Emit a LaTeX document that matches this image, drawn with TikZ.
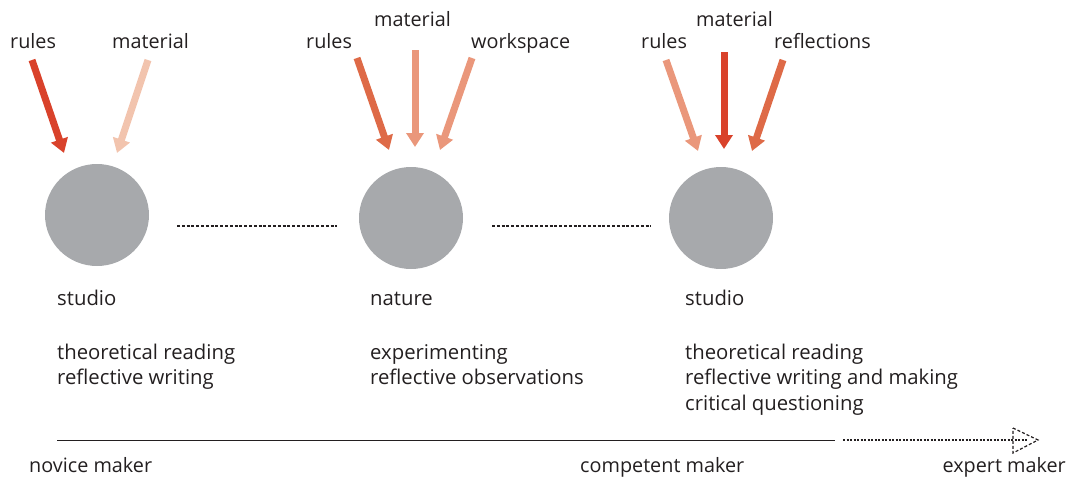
\documentclass[tikz,border=0pt]{standalone}
\usepackage{fontspec}
\setmainfont{Open Sans}
\usetikzlibrary{arrows.meta,shapes.geometric}
\definecolor{cgray}{HTML}{A7A9AC}
\definecolor{cdark}{HTML}{D9422B}
\definecolor{cmid}{HTML}{DE6A47}
\definecolor{clight}{HTML}{EA977B}
\definecolor{cpale}{HTML}{F2C4AE}
\definecolor{ctext}{HTML}{231F20}
\tikzset{
  blob/.style={ellipse, fill=cgray, minimum width=104pt, minimum height=102pt, inner sep=0pt},
  lbl/.style={font=\fontsize{19.8}{24}\selectfont, text=ctext, inner sep=0pt, anchor=base west},
  desc/.style={lbl, font=\fontsize{20.3}{24}\selectfont},
  inarrow/.style={line width=7pt, -{Triangle[width=17pt,length=14pt]}},
  dots/.style={line width=1.6pt, dash pattern=on 3pt off 1.8pt, ctext},
}
\begin{document}
\begin{tikzpicture}[x=1pt,y=-1pt]
\useasboundingbox (0,0) rectangle (1068,479);
% circles
\node[blob] (c1) at (97,215) {};
\node[blob] (c2) at (411,218) {};
\node[blob] (c3) at (721,218) {};
\draw[dots] (177,226) -- (337,226);
\draw[dots] (492,226) -- (651,226);
% labels and arrows, stage 1
\node[lbl] (r1) at (10,48) {rules};
\node[lbl] (m1) at (112,48) {material};
\coordinate (r1s) at (32,60); \coordinate (r1e) at (64,153);
\coordinate (m1s) at (148,60); \coordinate (m1e) at (117,153);
\draw[inarrow, cdark] (r1s) -- (r1e);
\draw[inarrow, cpale] (m1s) -- (m1e);
% stage 2
\node[lbl] (r2) at (306,48) {rules};
\node[lbl] (m2) at (374,26) {material};
\node[lbl] (w2) at (471,48) {workspace};
\coordinate (r2s) at (357,58); \coordinate (r2e) at (389,150);
\coordinate (m2s) at (415,50); \coordinate (m2e) at (415,147);
\coordinate (w2s) at (472,58); \coordinate (w2e) at (440,150);
\draw[inarrow, cmid] (r2s) -- (r2e);
\draw[inarrow, clight] (m2s) -- (m2e);
\draw[inarrow, clight] (w2s) -- (w2e);
% stage 3
\node[lbl] (r3) at (641,48) {rules};
\node[lbl] (m3) at (696,26) {material};
\node[lbl] (f3) at (774,48) {reflections};
\coordinate (r3s) at (666,60); \coordinate (r3e) at (698,151);
\coordinate (m3s) at (724,52); \coordinate (m3e) at (724,149);
\coordinate (f3s) at (783,60); \coordinate (f3e) at (752,151);
\draw[inarrow, clight] (r3s) -- (r3e);
\draw[inarrow, cdark] (m3s) -- (m3e);
\draw[inarrow, cmid] (f3s) -- (f3e);
% descriptions
\node[desc] (s1) at (57,305) {studio};
\node[desc] (p1a) at (57,359) {theoretical reading};
\node[desc] (p1b) at (57,384) {reflective writing};
\node[desc] (s2) at (370,305) {nature};
\node[desc] (p2a) at (370,359) {experimenting};
\node[desc] (p2b) at (370,384) {reflective observations};
\node[desc] (s3) at (685,305) {studio};
\node[desc] (p3a) at (685,359) {theoretical reading};
\node[desc] (p3b) at (685,384) {reflective writing and making};
\node[desc] (p3c) at (685,410) {critical questioning};
% timeline
\coordinate (t0) at (57,440);
\coordinate (t1) at (835,440);
\coordinate (t2) at (843,440);
\coordinate (t3) at (1028,440);
\coordinate (ha) at (1013,428);
\coordinate (hb) at (1038,440);
\coordinate (hc) at (1013,453);
\draw[line width=1pt, ctext] (t0) -- (t1);
\draw[ctext, line width=1.3pt, dash pattern=on 2pt off 1.5pt] (t2) -- (t3);
\draw[ctext, line width=1.2pt, dash pattern=on 3pt off 2pt] (ha) -- (hb) -- (hc) -- cycle;
\node[lbl] (n1) at (29,472) {novice maker};
\node[lbl] (n2) at (580,472) {competent maker};
\node[lbl, anchor=base east] (n3) at (1066,472) {expert maker};
\end{tikzpicture}
\end{document}
